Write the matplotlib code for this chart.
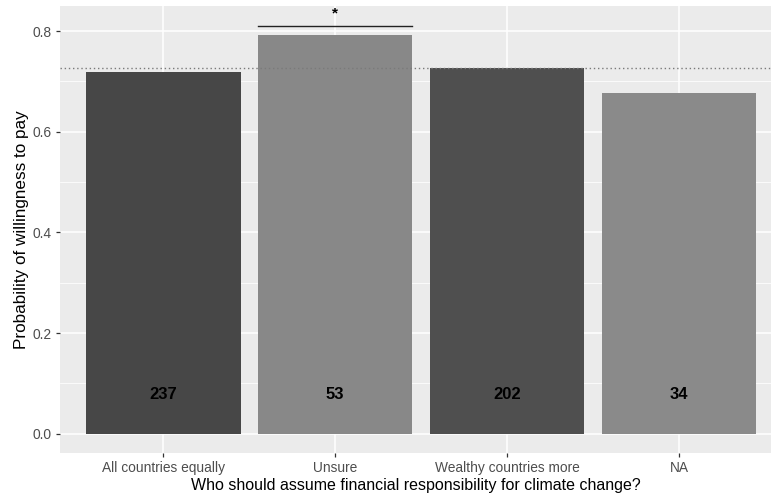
import matplotlib.pyplot as plt
import numpy as np

plt.rcParams["font.family"] = ["Liberation Sans", "DejaVu Sans"]

# responsibility groups, estimated probability and group sizes
groups = ["All countries equally", "Unsure", "Wealthy countries more", "NA"]
prob = [0.718, 0.792, 0.727, 0.676]
counts = [237, 53, 202, 34]
overall_mean = 0.727
bar_colors = ["#474747", "#888888", "#4f4f4f", "#8a8a8a"]

# significance bracket over "Unsure"
sig_group = 1
sig_y = 0.810
sig_label = "*"

fig = plt.figure(figsize=(7.71, 4.99), dpi=100)
ax = fig.add_axes([60 / 771, 1 - 453 / 499, 1 - 60 / 771, (453 - 6) / 499])

x = np.arange(len(groups))
ax.set_facecolor("#ebebeb")
ax.set_axisbelow(True)

ax.bar(x, prob, width=0.9, color=bar_colors, zorder=2)

for xi, n in zip(x, counts):
    ax.text(xi, 0.077, str(n), ha="center", va="center",
            fontsize=12, fontweight="bold", color="black", zorder=3)

ax.axhline(overall_mean, color="#7a7a7a", linestyle=(0, (1, 2)), linewidth=1.0, zorder=3)

ax.plot([sig_group - 0.45, sig_group + 0.45], [sig_y, sig_y], color="#222222", linewidth=1.0, zorder=3)
ax.text(sig_group, sig_y + 0.010, sig_label, ha="center", va="bottom",
        fontsize=11, fontweight="bold", color="black")

ax.set_xlim(-0.6, 3.535)
ax.set_ylim(-0.0383, 0.8497)

ax.set_yticks([0.0, 0.2, 0.4, 0.6, 0.8])
ax.set_yticklabels(["0.0", "0.2", "0.4", "0.6", "0.8"])
ax.set_yticks([0.1, 0.3, 0.5, 0.7], minor=True)
ax.set_xticks(x)
ax.set_xticklabels(groups)

ax.grid(which="major", color="white", linewidth=1.1, zorder=0)
ax.grid(which="minor", axis="y", color="white", linewidth=0.55, zorder=0)

for s in ax.spines.values():
    s.set_visible(False)

ax.tick_params(which="major", length=3, width=0.9, color="#333333",
               labelsize=9.9, labelcolor="#4d4d4d", pad=3)
ax.tick_params(which="minor", length=0)

ax.set_xlabel("Who should assume financial responsibility for climate change?",
              fontsize=11.5, color="black", labelpad=2)
ax.set_ylabel("Probability of willingness to pay", fontsize=12.3, color="black", labelpad=2.5)

fig.savefig("out.png", dpi=100)
